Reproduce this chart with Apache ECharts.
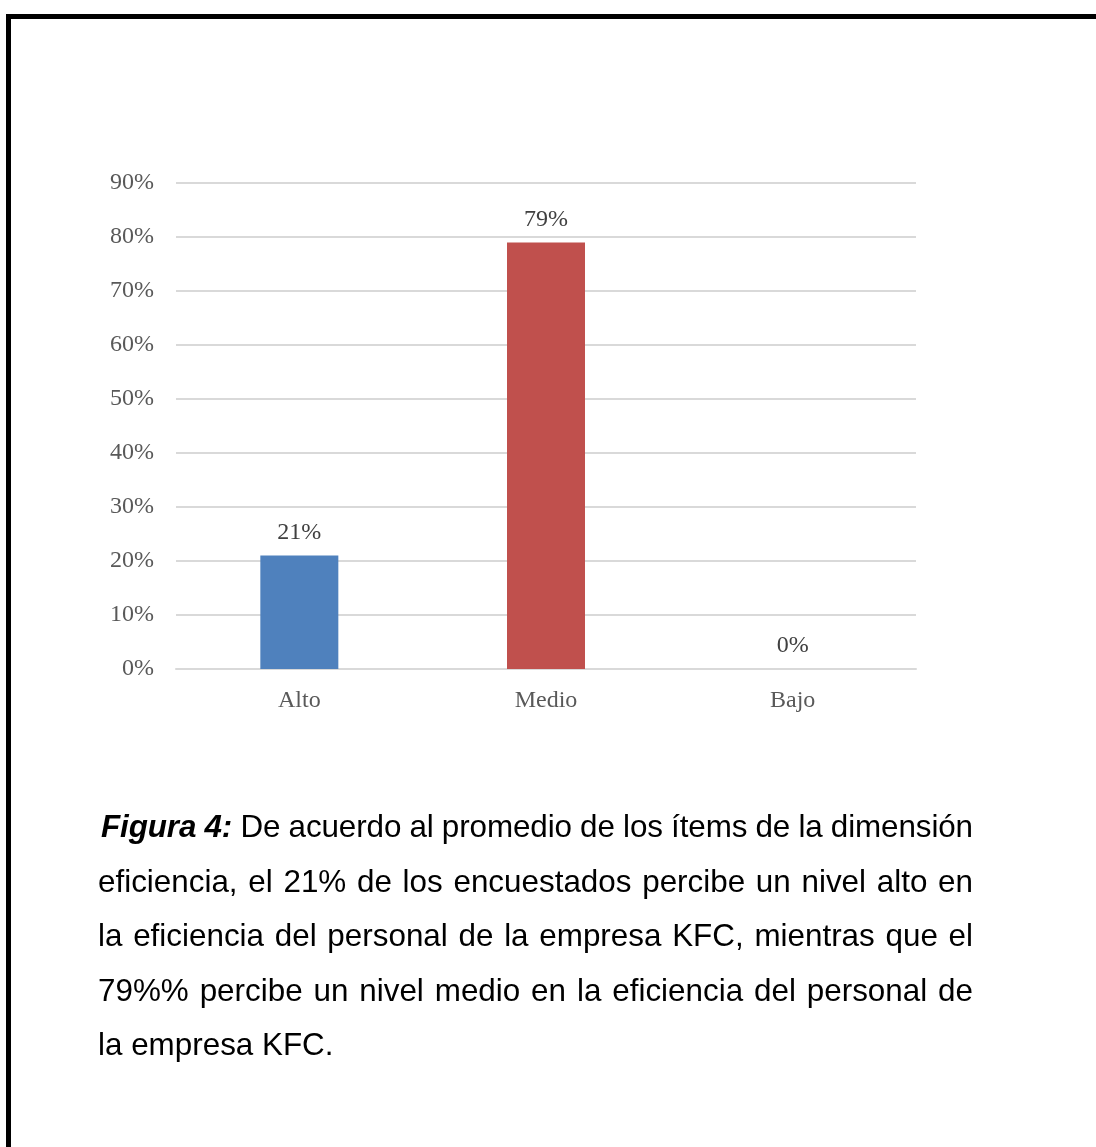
<!DOCTYPE html>
<html>
<head>
<meta charset="utf-8">
<script src="https://cdn.jsdelivr.net/npm/echarts@6/dist/echarts.min.js"></script>
<style>
  html, body { margin: 0; padding: 0; background: #fff; overflow: hidden; }
  #wrap { position: relative; width: 1096px; height: 1147px; }
  #frame {
    position: absolute; left: 6px; top: 14px; width: 1200px; height: 1300px;
    border: 5px solid #000; box-sizing: border-box;
  }
  #chart { position: absolute; left: 0; top: 0; width: 1096px; height: 1147px; }
  #caption {
    position: absolute; left: 98px; top: 800px; width: 875px;
    font-family: "Liberation Sans", Arial, sans-serif; font-size: 31.4px;
    line-height: 54.5px; color: #000;
  }
  #caption .ln { text-align: justify; text-align-last: justify; white-space: nowrap; }
  #caption .ln.first { padding-left: 3px; word-spacing: -2px; letter-spacing: -0.1px; }
  #caption .ln.last { text-align-last: left; }
  #caption b { font-style: italic; }
</style>
</head>
<body>
<div id="wrap">
  <div id="frame"></div>
  <div id="chart"></div>
  <div id="caption">
    <div class="ln first"><b>Figura 4:</b> De acuerdo al promedio de los ítems de la dimensión</div>
    <div class="ln">eficiencia, el 21% de los encuestados percibe un nivel alto en</div>
    <div class="ln">la eficiencia del personal de la empresa KFC, mientras que el</div>
    <div class="ln">79%% percibe un nivel medio en la eficiencia del personal de</div>
    <div class="ln last">la empresa KFC.</div>
  </div>
</div>
<script>
// Nivel de eficiencia percibido (porcentaje de encuestados)
const categories = ['Alto', 'Medio', 'Bajo'];
const values = [21, 79, 0];
const barColors = ['#4F81BD', '#C0504D', '#9BBB59'];

const chart = echarts.init(document.getElementById('chart'), null, { renderer: 'canvas' });
const serif = '"Liberation Serif", "DejaVu Serif", serif';

chart.setOption({
  animation: false,
  grid: { left: 176, right: 180, top: 183, bottom: 478, containLabel: false },
  xAxis: {
    type: 'category',
    data: categories,
    axisLine: { show: true, lineStyle: { color: '#D9D9D9', width: 2 } },
    axisTick: { show: false },
    axisLabel: { color: '#595959', fontFamily: serif, fontSize: 24, margin: 20 }
  },
  yAxis: {
    type: 'value',
    min: 0, max: 90, interval: 10,
    axisLine: { show: false },
    axisTick: { show: false },
    splitLine: { lineStyle: { color: '#D9D9D9', width: 2 } },
    axisLabel: { color: '#595959', fontFamily: serif, fontSize: 24, margin: 22,
      formatter: v => v + '%' }
  },
  series: [{
    type: 'bar',
    barWidth: 78,
    data: values.map((v, i) => ({ value: v, itemStyle: { color: barColors[i] } })),
    label: {
      show: true, position: 'top', distance: 11,
      color: '#404040', fontFamily: serif, fontSize: 24,
      formatter: p => p.value + '%'
    }
  }]
});
</script>
</body>
</html>
